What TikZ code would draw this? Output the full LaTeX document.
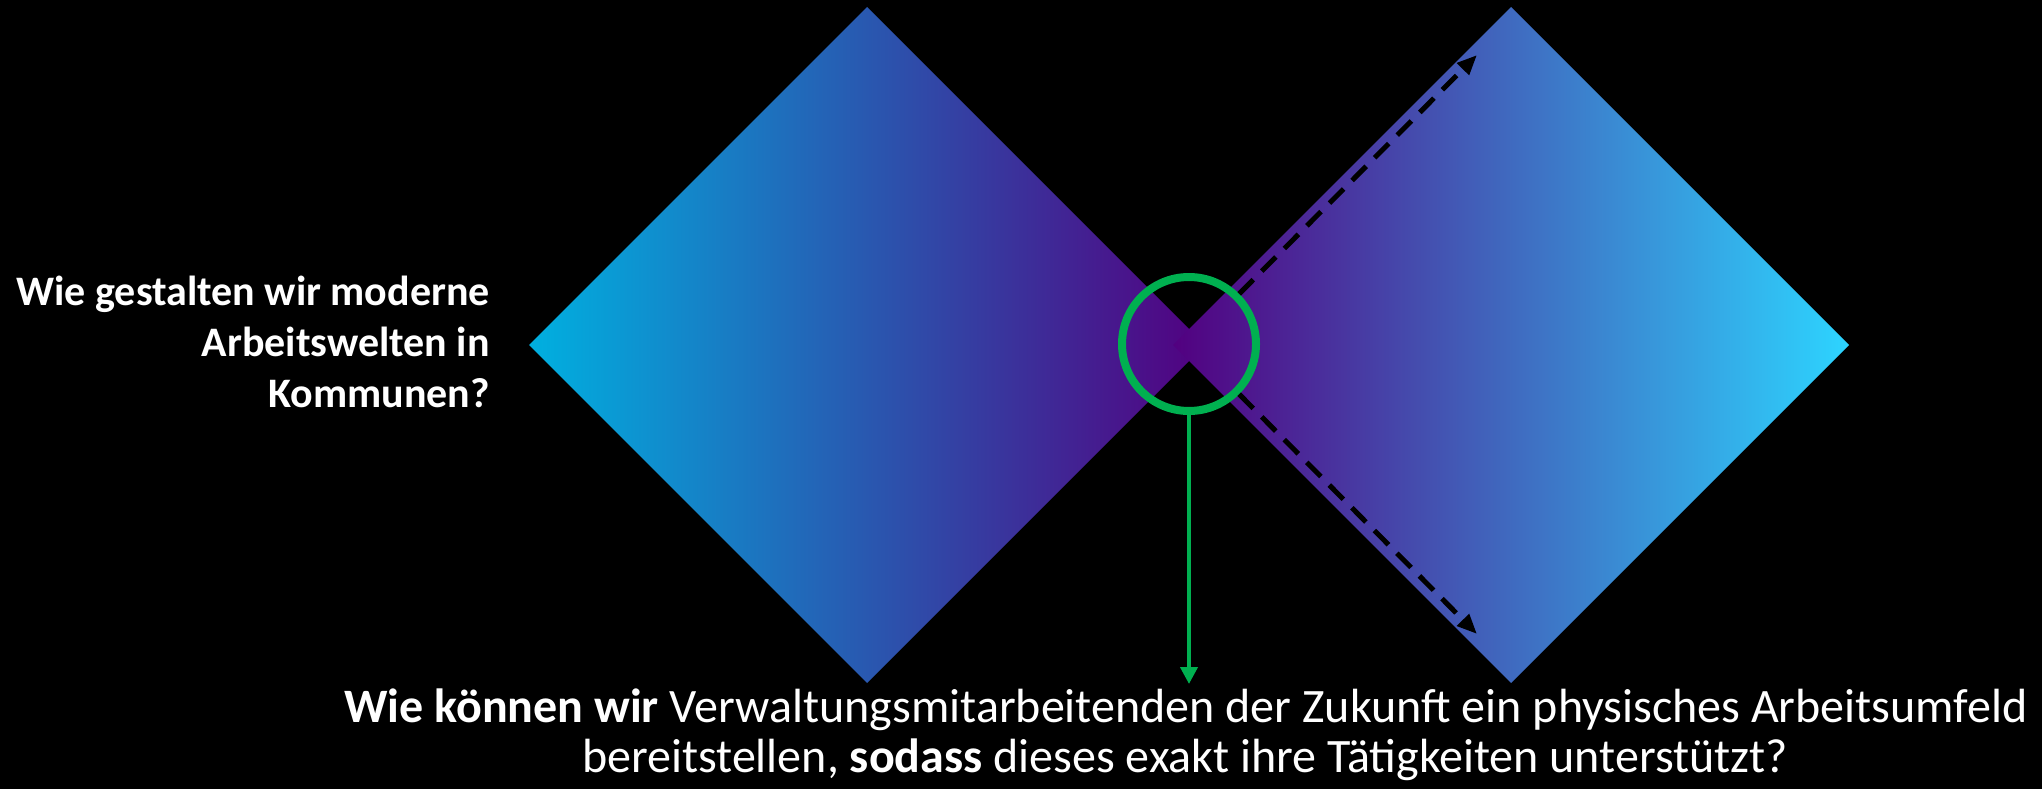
\documentclass[tikz,border=0pt]{standalone}
\usepackage{fontspec}
\setmainfont{Carlito}
\usetikzlibrary{arrows.meta}
\definecolor{cyanL}{RGB}{0,176,224}
\definecolor{purp}{RGB}{82,0,128}
\definecolor{cyanR}{RGB}{45,212,255}
\definecolor{grn}{RGB}{0,176,80}
\begin{document}
\begin{tikzpicture}[x=1pt,y=-1pt,
  lbl/.style={text=white,inner sep=0pt,font=\fontsize{48}{50}\selectfont},
  sidelbl/.style={text=white,inner sep=0pt,font=\fontsize{42}{51}\selectfont\bfseries,anchor=base east},
  focusring/.style={circle,draw=grn,line width=8pt,minimum size=134pt,inner sep=0pt},
  greenarrow/.style={grn,line width=4pt,-{Triangle[length=17pt,width=17pt]}},
  dasharrow/.style={black,line width=5pt,dash pattern=on 20pt off 12pt,-{Triangle[length=20pt,width=16pt]}}]
\fill[black] (0,0) rectangle (2042,789);
\useasboundingbox (0,0) rectangle (2042,789);
% diamonds
\shade[left color=cyanL,right color=purp] (529,345) -- (867,7) -- (1205,345) -- (867,683) -- cycle;
\shade[left color=purp,right color=cyanR] (1173,345) -- (1511,7) -- (1849,345) -- (1511,683) -- cycle;
% focus ring
\node[focusring] (focus) at (1189,344) {};
\coordinate (gtip) at (1189,684);
\coordinate (utip) at (1477,55);
\coordinate (dtip) at (1477,634);
\draw[greenarrow] (focus.south) -- (gtip);
\draw[dasharrow] (focus.45) -- (utip);
\draw[dasharrow] (focus.-45) -- (dtip);
% left question
\node[sidelbl] (q1) at (490,305) {Wie gestalten wir moderne};
\node[sidelbl] (q2) at (490,356) {Arbeitswelten in};
\node[sidelbl] (q3) at (490,407) {Kommunen?};
% bottom question
\node[lbl,anchor=base] (h1) at (1186,722) {\textbf{Wie können wir} Verwaltungsmitarbeitenden der Zukunft ein physisches Arbeitsumfeld};
\node[lbl,anchor=base] (h2) at (1185,772) {bereitstellen, \textbf{sodass} dieses exakt ihre Tätigkeiten unterstützt?};
\end{tikzpicture}
\end{document}
